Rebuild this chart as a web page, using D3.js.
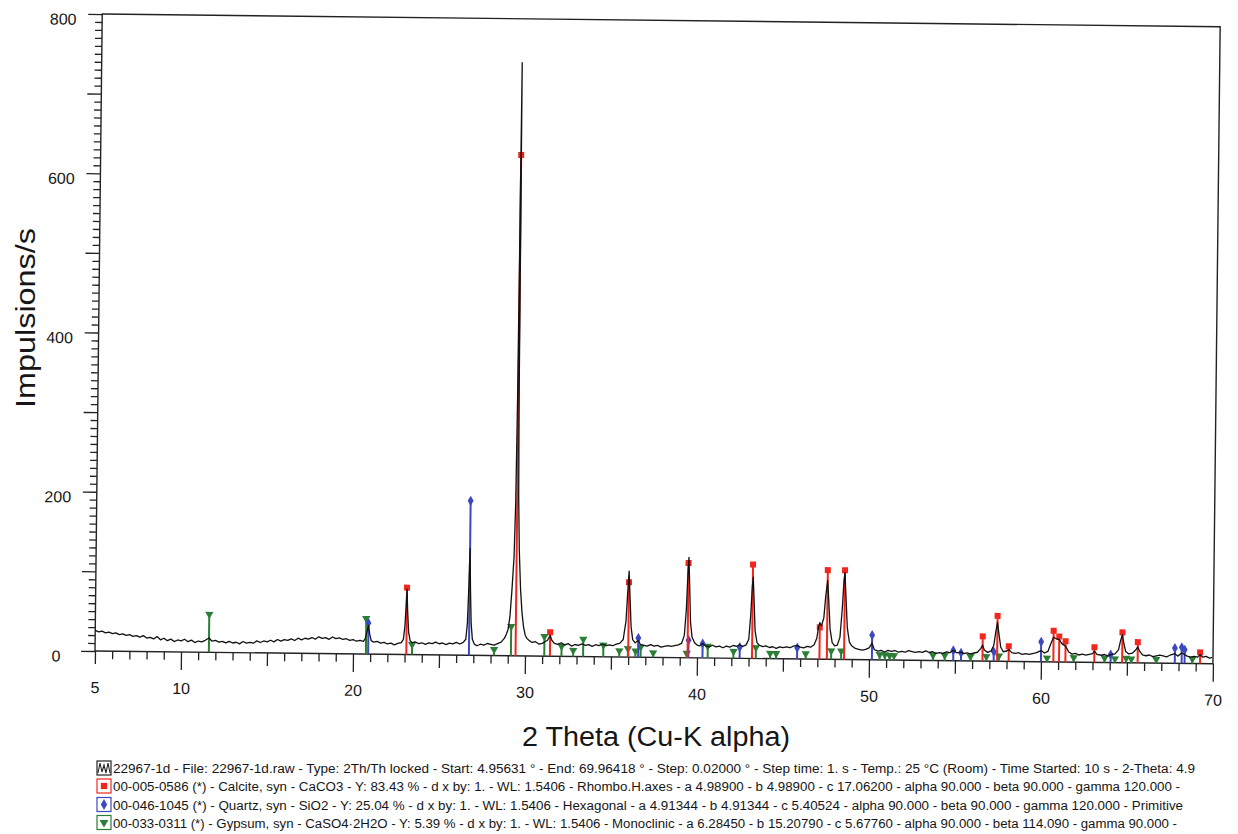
<!DOCTYPE html>
<html><head><meta charset="utf-8">
<script src="https://cdn.jsdelivr.net/npm/d3@7/dist/d3.min.js"></script>
<style>
body{margin:0;background:#fff}
svg text{font-family:"Liberation Sans",Arial,Helvetica,sans-serif;fill:#161616}
</style></head>
<body>
<svg id="chart" width="1238" height="834"></svg>
<script>
// ---------- DATA ----------
const xTickLabels = [5,10,20,30,40,50,60,70];
const yTickLabels = [0,200,400,600,800];
const xTitle = "2 Theta (Cu-K alpha)";
const yTitle = "Impulsions/s";

// measured pattern [2theta, counts]
const pattern = [[5.0,26],[5.2,24],[5.4,25],[5.6,23],[5.8,24],[6.0,22],[6.2,23],[6.4,21],[6.6,22],[6.8,20],[7.0,21],[7.2,19],[7.4,20],[7.6,18],[7.8,20],[8.0,17],[8.2,18],[8.4,16],[8.6,19],[8.8,15],[9.0,17],[9.2,14],[9.4,16],[9.6,13],[9.8,15],[10.0,14],[10.2,16],[10.4,13],[10.6,15],[10.8,12],[11.0,14],[11.2,13],[11.4,15],[11.62,18],[11.8,14],[12.0,15],[12.2,13],[12.4,14],[12.6,12],[12.8,14],[13.0,12],[13.2,13],[13.4,11],[13.6,14],[13.8,12],[14.0,13],[14.2,12],[14.4,15],[14.6,13],[14.8,15],[15.0,14],[15.2,16],[15.4,14],[15.6,17],[15.8,15],[16.0,17],[16.2,16],[16.4,18],[16.6,16],[16.8,19],[17.0,17],[17.2,19],[17.4,18],[17.6,20],[17.8,18],[18.0,21],[18.2,19],[18.4,20],[18.6,18],[18.8,21],[19.0,19],[19.2,20],[19.4,18],[19.6,19],[19.8,17],[20.0,18],[20.2,16],[20.4,17],[20.6,16],[20.7,19],[20.8,28],[20.88,36],[20.96,25],[21.05,17],[21.2,15],[21.4,16],[21.6,14],[21.8,15],[22.0,13],[22.2,14],[22.4,12],[22.6,14],[22.8,15],[22.92,19],[23.0,35],[23.06,62],[23.1,82],[23.15,55],[23.22,28],[23.32,17],[23.45,15],[23.6,16],[23.8,14],[24.0,15],[24.2,13],[24.4,15],[24.6,14],[24.8,16],[25.0,14],[25.2,15],[25.4,13],[25.6,15],[25.8,14],[26.0,16],[26.2,14],[26.4,16],[26.55,20],[26.63,40],[26.69,85],[26.74,134],[26.79,82],[26.85,40],[26.93,20],[27.05,14],[27.2,12],[27.4,14],[27.6,13],[27.8,15],[28.0,14],[28.2,13],[28.4,15],[28.6,17],[28.8,22],[28.9,27],[29.0,33],[29.1,49],[29.2,83],[29.3,124],[29.36,190],[29.4,320],[29.45,745],[29.49,320],[29.53,200],[29.6,133],[29.7,83],[29.8,54],[29.9,36],[30.0,26],[30.1,22],[30.2,20],[30.4,17],[30.6,18],[30.8,15],[31.0,16],[31.15,18],[31.3,20],[31.45,26],[31.55,20],[31.7,16],[31.9,15],[32.1,17],[32.3,14],[32.5,16],[32.7,13],[32.9,15],[33.1,14],[33.3,16],[33.5,14],[33.7,15],[33.9,13],[34.1,15],[34.3,14],[34.5,16],[34.7,14],[34.9,15],[35.1,14],[35.3,16],[35.5,17],[35.7,22],[35.85,45],[35.93,80],[36.0,108],[36.07,75],[36.15,38],[36.25,22],[36.4,18],[36.58,21],[36.7,16],[36.9,15],[37.1,14],[37.3,16],[37.5,14],[37.7,15],[37.9,13],[38.1,14],[38.3,15],[38.5,14],[38.7,15],[38.9,16],[39.1,18],[39.25,28],[39.35,60],[39.42,105],[39.47,126],[39.53,90],[39.6,45],[39.7,26],[39.85,19],[40.0,16],[40.15,15],[40.32,18],[40.5,15],[40.7,14],[40.9,16],[41.1,14],[41.3,15],[41.5,13],[41.7,15],[41.9,14],[42.1,16],[42.3,15],[42.48,17],[42.65,15],[42.85,17],[43.0,24],[43.1,55],[43.17,90],[43.22,102],[43.28,75],[43.36,35],[43.48,20],[43.6,17],[43.8,15],[44.0,16],[44.2,14],[44.4,15],[44.6,13],[44.8,15],[45.0,14],[45.2,15],[45.4,14],[45.6,16],[45.82,17],[46.0,15],[46.2,14],[46.4,16],[46.6,15],[46.8,18],[46.95,26],[47.05,40],[47.12,46],[47.22,42],[47.35,52],[47.45,80],[47.55,99],[47.62,75],[47.72,38],[47.85,21],[48.0,17],[48.15,18],[48.3,28],[48.42,65],[48.5,100],[48.55,109],[48.62,80],[48.72,40],[48.85,22],[49.0,17],[49.2,14],[49.4,13],[49.6,12],[49.8,13],[50.0,15],[50.17,21],[50.3,13],[50.5,11],[50.7,12],[50.9,10],[51.1,12],[51.3,11],[51.5,12],[51.7,10],[51.9,11],[52.1,10],[52.3,12],[52.5,11],[52.7,10],[52.9,11],[53.1,10],[53.3,12],[53.5,10],[53.7,11],[53.9,9],[54.1,10],[54.3,9],[54.5,11],[54.7,10],[54.9,13],[55.1,10],[55.35,11],[55.5,9],[55.7,10],[55.9,9],[56.1,10],[56.3,11],[56.5,16],[56.6,20],[56.7,14],[56.9,11],[57.1,13],[57.25,20],[57.35,36],[57.45,49],[57.53,36],[57.65,18],[57.8,12],[58.0,13],[58.12,15],[58.3,11],[58.5,10],[58.7,11],[58.9,9],[59.1,10],[59.3,9],[59.5,10],[59.7,11],[60.0,14],[60.2,11],[60.4,13],[60.55,22],[60.72,31],[60.88,29],[61.05,28],[61.2,23],[61.42,20],[61.6,13],[61.8,10],[62.0,11],[62.2,9],[62.4,10],[62.6,9],[62.8,10],[63.0,11],[63.1,14],[63.25,10],[63.5,9],[63.7,10],[63.9,8],[64.05,10],[64.3,11],[64.5,16],[64.62,28],[64.72,35],[64.8,25],[64.92,14],[65.1,11],[65.3,12],[65.5,16],[65.62,20],[65.75,14],[65.9,10],[66.1,9],[66.3,10],[66.5,8],[66.7,9],[66.9,10],[67.1,9],[67.3,8],[67.5,10],[67.78,12],[67.95,9],[68.18,13],[68.35,11],[68.5,9],[68.7,8],[68.9,9],[69.1,8],[69.25,11],[69.4,8],[69.6,9],[69.8,7],[69.96,8]];

// reference line sticks [2theta, height]
const calcite = [[23.10,84],[29.45,629],[31.45,30],[36.00,94],[39.45,119],[43.20,118],[47.12,40],[47.55,112],[48.55,112],[56.60,31],[57.45,57],[58.12,19],[60.72,39],[61.05,32],[61.42,26],[63.10,19],[64.72,38],[65.62,26],[69.25,14]];
const quartz = [[20.88,39],[26.74,194],[36.58,24],[39.50,22],[40.32,18],[42.48,14],[45.82,14],[50.17,31],[54.90,13],[55.35,10],[57.25,12],[60.00,25],[64.05,10],[67.78,19],[68.18,20],[68.35,17]];
const gypsum = [[11.62,49],[20.75,46],[23.43,14],[28.20,9],[29.18,38],[31.12,26],[32.12,14],[32.80,9],[33.38,23],[34.55,16],[35.48,9],[35.98,12],[36.42,9],[36.72,14],[37.45,7],[39.40,7],[40.62,16],[42.12,10],[43.42,15],[44.25,8],[44.60,8],[46.32,8],[47.80,12],[48.38,12],[50.62,8],[50.92,8],[51.20,7],[51.45,7],[53.72,8],[54.40,8],[55.90,7],[56.82,7],[57.55,8],[60.35,6],[61.90,7],[63.70,7],[64.30,6],[64.95,7],[65.25,6],[66.70,6],[68.80,7]];

const legendLines = [
  "22967-1d - File: 22967-1d.raw - Type: 2Th/Th locked - Start: 4.95631 ° - End: 69.96418 ° - Step: 0.02000 ° - Step time: 1. s - Temp.: 25 °C (Room) - Time Started: 10 s - 2-Theta: 4.9",
  "00-005-0586 (*) - Calcite, syn - CaCO3 - Y: 83.43 % - d x by: 1. - WL: 1.5406 - Rhombo.H.axes - a 4.98900 - b 4.98900 - c 17.06200 - alpha 90.000 - beta 90.000 - gamma 120.000 -",
  "00-046-1045 (*) - Quartz, syn - SiO2 - Y: 25.04 % - d x by: 1. - WL: 1.5406 - Hexagonal - a 4.91344 - b 4.91344 - c 5.40524 - alpha 90.000 - beta 90.000 - gamma 120.000 - Primitive",
  "00-033-0311 (*) - Gypsum, syn - CaSO4·2H2O - Y: 5.39 % - d x by: 1. - WL: 1.5406 - Monoclinic - a 6.28450 - b 15.20790 - c 5.67760 - alpha 90.000 - beta 114.090 - gamma 90.000 -"
];
const legendKinds = ["scan","calcite","quartz","gypsum"];

// ---------- LAYOUT ----------
const L = 95, R = 1213, T = 14, B = 651;
const tilt = 0.65;
const colors = {calcite:"#f2261c", quartz:"#3b48c0", gypsum:"#2c7d36", scan:"#111"};
const axisColor = "#222";

const svg = d3.select("#chart");
const x = d3.scaleLinear().domain([5,70]).range([L,R]);
const y = d3.scaleLinear().domain([0,800]).range([B,T]);

const g = svg.append("g").attr("transform",`rotate(${tilt},${L},${B})`);

// x axis with three tick levels (d3 axes)
function styleAxis(sel){
  sel.select(".domain").remove();
  sel.selectAll(".tick line").attr("stroke",axisColor).attr("stroke-width",1.3);
}
const xMinor = d3.range(5,71,1).filter(d=>d%5!==0);
const xMid = [5].concat(d3.range(15,71,10));
const xMajor = d3.range(10,71,10);
g.append("g").attr("transform",`translate(0,${B})`)
  .call(d3.axisBottom(x).tickValues(xMinor).tickSize(8).tickFormat(""))
  .call(styleAxis);
g.append("g").attr("transform",`translate(0,${B})`)
  .call(d3.axisBottom(x).tickValues(xMid).tickSize(13).tickFormat(d=>d===5?"5":""))
  .call(styleAxis)
  .selectAll(".tick text").attr("y",42).attr("dy",0).attr("font-size",16).style("fill","#161616");
g.append("g").attr("transform",`translate(0,${B})`)
  .call(d3.axisBottom(x).tickValues(xMajor).tickSize(18).tickFormat(d=>xTickLabels.includes(d)?String(d):""))
  .call(styleAxis)
  .selectAll(".tick text").attr("y",42).attr("dy",0).attr("font-size",16).style("fill","#161616");

// y axis: two tick levels
const yMinor = d3.range(0,801,10).filter(d=>d%100!==0);
const yMajor = d3.range(0,801,100);
g.append("g").attr("transform",`translate(${L},0)`)
  .call(d3.axisLeft(y).tickValues(yMinor).tickSize(7).tickFormat(""))
  .call(styleAxis);
g.append("g").attr("transform",`translate(${L},0)`)
  .call(d3.axisLeft(y).tickValues(yMajor).tickSize(14).tickFormat(d=>yTickLabels.includes(d)?String(d):""))
  .call(styleAxis)
  .selectAll(".tick text").attr("x",-39).attr("dy",10.5).attr("text-anchor","middle").attr("font-size",16).style("fill","#161616");

// frame drawn as a path (left, bottom, right, top)
g.append("path")
  .attr("d",`M${L},${T}V${B}H${R}V${T}Z`)
  .attr("fill","none").attr("stroke",axisColor).attr("stroke-width",1.4);

// sticks
function drawPhase(data, kind){
  const c = colors[kind];
  const gg = g.append("g").attr("class","phase-"+kind);
  gg.selectAll("line").data(data).join("line")
    .attr("x1",d=>x(d[0])).attr("x2",d=>x(d[0]))
    .attr("y1",y(0)).attr("y2",d=>y(d[1]))
    .attr("stroke",c).attr("stroke-width",2);
  const sym = kind==="calcite" ? d3.symbolSquare : kind==="quartz" ? d3.symbolDiamond : d3.symbolTriangle;
  const size = kind==="calcite" ? 36 : 30;
  gg.selectAll("path").data(data).join("path")
    .attr("d", d3.symbol().type(sym).size(size))
    .attr("transform", d => `translate(${x(d[0])},${y(d[1])+(kind==="gypsum"?1:0)})` + (kind==="gypsum" ? " rotate(180)" : ""))
    .attr("fill",c);
}
drawPhase(gypsum,"gypsum");
drawPhase(quartz,"quartz");
drawPhase(calcite,"calcite");

// scan line
g.append("path").datum(pattern)
  .attr("d", d3.line().x(d=>x(d[0])).y(d=>y(d[1])))
  .attr("fill","none").attr("stroke","#111").attr("stroke-width",1.3).attr("stroke-linejoin","round");

// axis titles
svg.append("text").attr("transform","translate(35,318) rotate(-90)")
  .attr("text-anchor","middle").attr("font-size",28)
  .attr("textLength",180).attr("lengthAdjust","spacingAndGlyphs").text(yTitle);
svg.append("text").attr("x",656).attr("y",746).attr("text-anchor","middle")
  .attr("font-size",27).attr("textLength",268).attr("lengthAdjust","spacingAndGlyphs").text(xTitle);

// legend
const legendY = [773,791,809.5,827.5];
const legendEnd = [1195,1180,1183,1177];
const lg = svg.append("g");
legendLines.forEach((t,i)=>{
  const kind = legendKinds[i];
  const c = colors[kind];
  const cy = legendY[i]-5;
  const bx = 97, bs = 14;
  lg.append("rect").attr("x",bx).attr("y",cy-bs/2).attr("width",bs).attr("height",bs)
    .attr("fill","#fff").attr("stroke",kind==="scan"?"#222":c).attr("stroke-width",1.2);
  if(kind==="scan"){
    lg.append("path").attr("d",`M${bx+1},${cy+5} L${bx+3},${cy-5} L${bx+5},${cy+4} L${bx+7},${cy-3} L${bx+9},${cy+5} L${bx+11},${cy-5} L${bx+13},${cy+5}`)
      .attr("fill","none").attr("stroke","#222").attr("stroke-width",1.1);
  } else {
    const sym = kind==="calcite" ? d3.symbolSquare : kind==="quartz" ? d3.symbolDiamond : d3.symbolTriangle;
    lg.append("path").attr("d", d3.symbol().type(sym).size(kind==="calcite"?40:34))
      .attr("transform",`translate(${bx+bs/2},${cy})`+(kind==="gypsum"?" rotate(180)":""))
      .attr("fill",c);
  }
  lg.append("text").attr("x",113).attr("y",legendY[i]).attr("font-size",12.5)
    .attr("textLength",legendEnd[i]-113).attr("lengthAdjust","spacingAndGlyphs").text(t);
});
</script>
</body></html>
